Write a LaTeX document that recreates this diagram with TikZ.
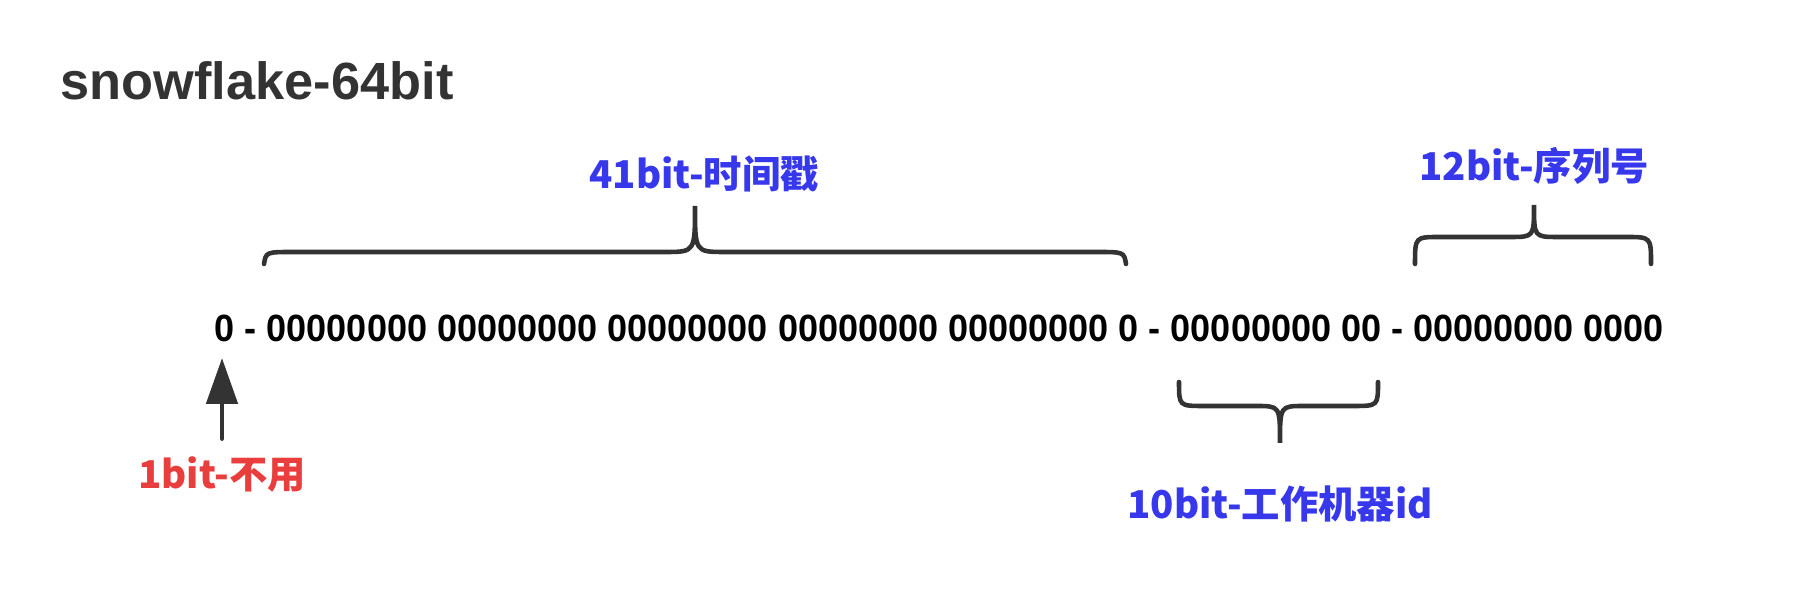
\documentclass[tikz,border=0pt]{standalone}
\usepackage{fontspec}
\setmainfont{Liberation Sans}
\newfontfamily\cjk{Noto Sans CJK SC}
\newfontfamily\bitfont[FakeStretch=0.95]{Liberation Sans}
\usetikzlibrary{arrows.meta}
\definecolor{inkgray}{RGB}{51, 51, 51}
\definecolor{fieldblue}{RGB}{55, 55, 235}
\definecolor{unusedred}{RGB}{232, 62, 62}

\begin{document}
\begin{tikzpicture}[x=0.1cm, y=0.1cm, line cap=round,
    brace/.style={draw=inkgray, line width=1.3pt},
    field/.style={inner sep=0pt, font=\cjk\bfseries\fontsize{10.9}{13}\selectfont}]
  \useasboundingbox (0, 0) rectangle (181.6, 60.1);

  \node[anchor=west, inner sep=0pt, text=inkgray,
        font=\bfseries\fontsize{14.9}{18}\selectfont] (title) at (6, 52) {snowflake-64bit};
  \node[anchor=west, inner sep=0pt, font=\bitfont\bfseries\fontsize{10.8}{12}\selectfont] (bits) at (21.4, 27.3)
       {0 - 00000000 00000000 00000000 00000000 00000000 0 - 00000000 00 - 00000000 0000};

  % braces over and under the fields
  \draw[brace] (26.4, 33.7) .. controls (26.6, 34.9) .. (29.4, 34.9) -- (66.5, 34.9)
               .. controls (69.5, 34.9) .. (69.5, 39.5) .. controls (69.5, 34.9) .. (72.5, 34.9)
               -- (109.6, 34.9) .. controls (112.4, 34.9) .. (112.6, 33.7);
  \draw[brace] (141.5, 33.7) .. controls (141.5, 36.4) .. (144.0, 36.4) -- (151.0, 36.4)
               .. controls (153.4, 36.4) .. (153.4, 39.6) .. controls (153.4, 36.4) .. (155.8, 36.4)
               -- (162.6, 36.4) .. controls (165.1, 36.4) .. (165.1, 33.7);
  \draw[brace] (117.9, 21.9) .. controls (117.9, 19.5) .. (120.4, 19.5) -- (125.6, 19.5)
               .. controls (128.0, 19.5) .. (128.0, 15.8) .. controls (128.0, 19.5) .. (130.4, 19.5)
               -- (135.3, 19.5) .. controls (137.8, 19.5) .. (137.8, 21.9);

  \node[field, text=fieldblue] (timestamp) at (70.4, 42.7) {41bit-时间戳};
  \node[field, text=fieldblue] (sequence) at (153.4, 43.5) {12bit-序列号};
  \node[field, text=fieldblue] (worker) at (128.0, 9.7) {10bit-工作机器id};
  \node[field, text=unusedred] (unused) at (22.2, 12.6) {1bit-不用};

  \coordinate (signbit) at (22.2, 24.3);
  \draw[-{Triangle[length=4.6mm, width=3.1mm]}, draw=inkgray, fill=inkgray, line width=1.4pt,
        shorten <=1.8mm] (unused.north) -- (signbit);
\end{tikzpicture}
\end{document}
